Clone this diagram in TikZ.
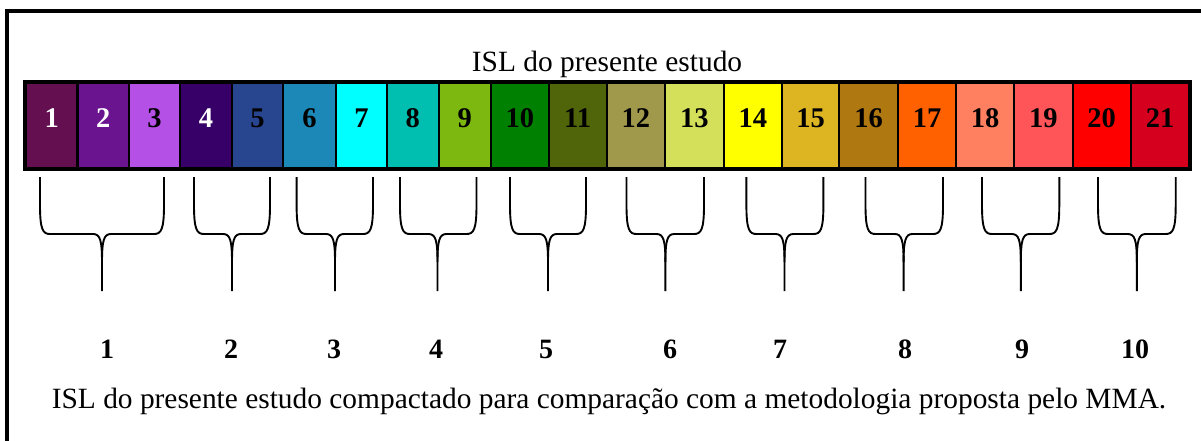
\documentclass[tikz,border=0pt]{standalone}
\usepackage{fontspec}
\setmainfont{Liberation Serif}
\usepackage{xcolor}

% cell colours
\definecolor{isl1}{RGB}{100,16,80}
\definecolor{isl2}{RGB}{106,20,144}
\definecolor{isl3}{RGB}{180,80,230}
\definecolor{isl4}{RGB}{54,0,104}
\definecolor{isl5}{RGB}{40,70,144}
\definecolor{isl6}{RGB}{28,136,184}
\definecolor{isl7}{RGB}{0,255,255}
\definecolor{isl8}{RGB}{0,190,176}
\definecolor{isl9}{RGB}{125,184,16}
\definecolor{isl10}{RGB}{0,128,0}
\definecolor{isl11}{RGB}{80,100,10}
\definecolor{isl12}{RGB}{160,152,74}
\definecolor{isl13}{RGB}{212,224,90}
\definecolor{isl14}{RGB}{255,255,0}
\definecolor{isl15}{RGB}{221,181,34}
\definecolor{isl16}{RGB}{176,120,16}
\definecolor{isl17}{RGB}{255,96,0}
\definecolor{isl18}{RGB}{255,128,96}
\definecolor{isl19}{RGB}{255,85,88}
\definecolor{isl20}{RGB}{255,0,0}
\definecolor{isl21}{RGB}{212,0,30}

\begin{document}
\begin{tikzpicture}[
  x=1pt, y=-1pt,
  every node/.style={font=\fontsize{29.4}{34}\selectfont},
  cell/.style={draw, line width=2.2pt, minimum height=85pt, inner sep=0pt,
    font=\fontsize{28.5}{32}\selectfont\bfseries, text height=19pt, text depth=14pt},
  grp/.style={anchor=base, font=\fontsize{28}{32}\selectfont\bfseries},
  brc/.style={line width=1.9pt}
]
\def\Bt{177}\def\Bm{234}\def\Bb{291}
\useasboundingbox (0,0) rectangle (1201,441);
% frame
\draw[line width=4pt] (7,441) -- (7,11) -- (1201,11);
% title
\node[anchor=base] (ttl) at (607,71.5) {ISL do presente estudo};
% the classes
\foreach \n/\xa/\xb/\tc in {1/26/77.5/white, 2/77.5/129/white, 3/129/180/black,
  4/180/232/white, 5/232/283/black, 6/283/336/black, 7/336/387/black,
  8/387/438.7/black, 9/438.7/491/black, 10/491/548.7/black, 11/548.7/606.7/black,
  12/606.7/665/black, 13/665/723.7/black, 14/723.7/782/black, 15/782/839.3/black,
  16/839.3/898/black, 17/898/956/black, 18/956/1014/black, 19/1014/1072.7/black,
  20/1072.7/1130.7/black, 21/1130.7/1189.3/black}{
  \node[cell, fill=isl\n, text=\tc, minimum width={(\xb-\xa)*1pt}] (c\n) at ({(\xa+\xb)/2},125.5) {\n};
}
\draw[line width=3pt] (c1.north west) rectangle (c21.south east);
% braces + compacted classes
\foreach \l/\r/\c/\n/\lx in {40/164/102/1/107, 194/270/232/2/231, 296.6/373/335/3/334,
  400/476.5/437.5/4/436, 510/586/548/5/546, 626.5/704/665.4/6/670, 746.4/823.4/784.5/7/780,
  865.5/943/903.6/8/905, 982/1059.3/1020.8/9/1022, 1098/1175.7/1136.8/10/1135}{
  \draw[brc] (\l,\Bt) -- (\l,205) .. controls (\l,230) and (\l+3,\Bm) .. (\l+10,\Bm)
    -- (\c-9,\Bm) .. controls (\c-2,\Bm) and (\c,240) .. (\c,262) -- (\c,\Bb);
  \draw[brc] (\r,\Bt) -- (\r,205) .. controls (\r,230) and (\r-3,\Bm) .. (\r-10,\Bm)
    -- (\c+9,\Bm) .. controls (\c+2,\Bm) and (\c,240) .. (\c,262);
  \node[grp] (g\n) at (\lx,358) {\n};
}
% caption
\node[anchor=base] (cap) at (609,408) {ISL do presente estudo compactado para comparação com a metodologia proposta pelo MMA.};
\end{tikzpicture}
\end{document}
